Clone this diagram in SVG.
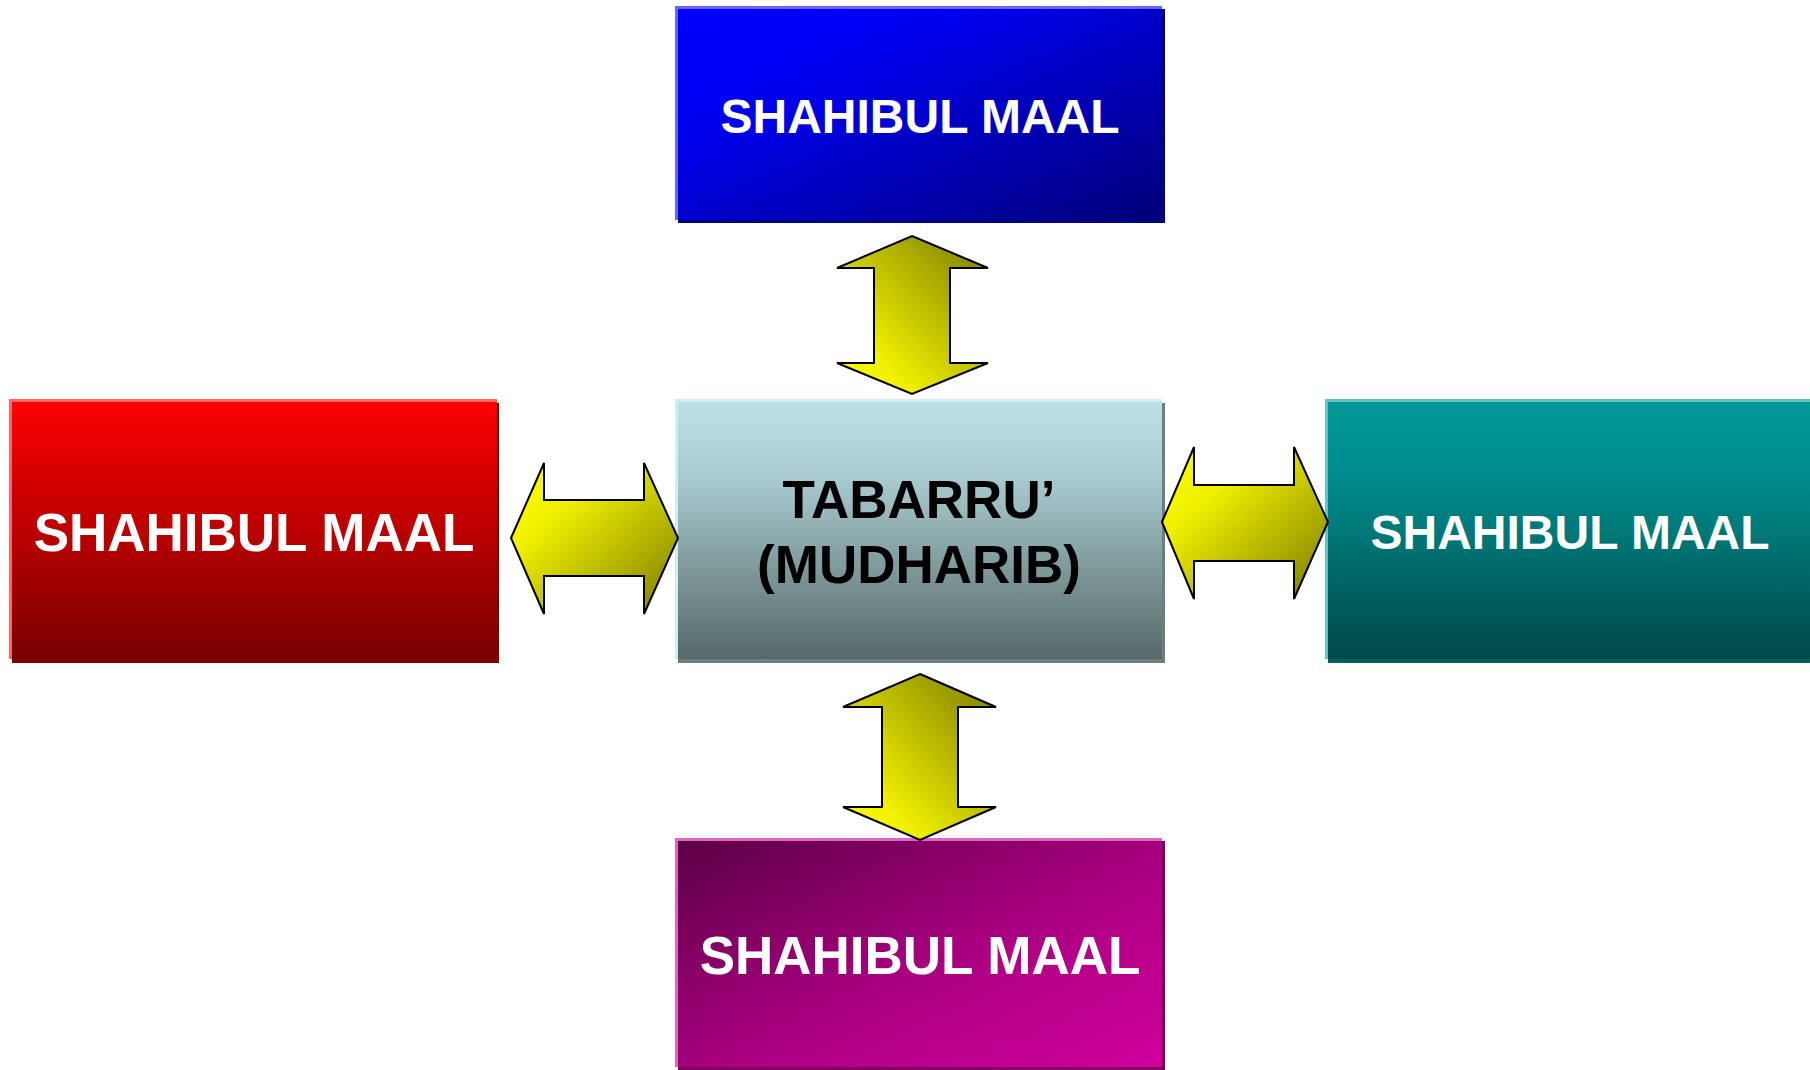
<svg xmlns="http://www.w3.org/2000/svg" width="1810" height="1070" viewBox="0 0 1810 1070">
<defs>
<linearGradient id="gBlue" x1="0" y1="0" x2="1" y2="1"><stop offset="0" stop-color="#0000ff"/><stop offset="0.3" stop-color="#0000f0"/><stop offset="1" stop-color="#000078"/></linearGradient>
<linearGradient id="gRed" x1="0" y1="0" x2="0" y2="1"><stop offset="0" stop-color="#ff0000"/><stop offset="1" stop-color="#780000"/></linearGradient>
<linearGradient id="gGrey" x1="0" y1="0" x2="0" y2="1"><stop offset="0" stop-color="#bde2e5"/><stop offset="0.3" stop-color="#a9cbcf"/><stop offset="1" stop-color="#566868"/></linearGradient>
<linearGradient id="gTeal" x1="0" y1="0" x2="0" y2="1"><stop offset="0" stop-color="#009999"/><stop offset="0.3" stop-color="#008c8c"/><stop offset="1" stop-color="#004848"/></linearGradient>
<linearGradient id="gMag" x1="0" y1="0" x2="1" y2="1"><stop offset="0" stop-color="#5a0044"/><stop offset="0.55" stop-color="#aa0080"/><stop offset="1" stop-color="#d0009c"/></linearGradient>
<linearGradient id="gArrV" x1="1" y1="0" x2="0" y2="1"><stop offset="0" stop-color="#7a7a00"/><stop offset="0.75" stop-color="#f0f000"/><stop offset="1" stop-color="#ffff00"/></linearGradient>
<linearGradient id="gArrH" x1="0" y1="0" x2="1" y2="1"><stop offset="0" stop-color="#ffff00"/><stop offset="0.3" stop-color="#f0f000"/><stop offset="1" stop-color="#7a7a00"/></linearGradient>
</defs>
<style>
.lbl{font-family:"Liberation Sans",Arial,sans-serif;font-weight:bold;text-anchor:middle;fill:#ffffff}
.dark{fill:#000000}
.arr{stroke:#000000;stroke-width:2;stroke-linejoin:miter}
.hl{fill:none;stroke-width:3}
</style>
<g id="node-top">
<rect x="678" y="9" width="487" height="214" fill="#000080"/>
<rect x="675" y="6" width="487" height="214" fill="url(#gBlue)"/>
<polyline class="hl" points="676.5,220 676.5,7.5 1162,7.5" stroke="#6666ff"/>
<text class="lbl" x="920" y="133" font-size="48">SHAHIBUL MAAL</text>
</g>
<g id="node-center">
<rect x="678" y="403" width="487" height="260" fill="#6b7f80"/>
<rect x="675" y="399" width="487" height="260" fill="url(#gGrey)"/>
<polyline class="hl" points="676.5,659 676.5,400.5 1162,400.5" stroke="#d2eef0"/>
<text class="lbl dark" x="919" y="518" font-size="53">TABARRU’</text>
<text class="lbl dark" x="919" y="583" font-size="53">(MUDHARIB)</text>
</g>
<g id="node-left">
<rect x="12" y="403" width="487" height="260" fill="#800000"/>
<rect x="9" y="399" width="488" height="260" fill="url(#gRed)"/>
<polyline class="hl" points="10.5,659 10.5,400.5 497,400.5" stroke="#ff6666"/>
<text class="lbl" x="254" y="551" font-size="53">SHAHIBUL MAAL</text>
</g>
<g id="node-right">
<rect x="1328" y="403" width="500" height="260" fill="#006060"/>
<rect x="1325" y="399" width="500" height="260" fill="url(#gTeal)"/>
<polyline class="hl" points="1326.5,659 1326.5,400.5 1825,400.5" stroke="#66c2c2"/>
<text class="lbl" x="1570" y="549" font-size="48">SHAHIBUL MAAL</text>
</g>
<g id="node-bottom">
<rect x="678" y="841" width="487" height="229" fill="#800060"/>
<rect x="675" y="838" width="487" height="229" fill="url(#gMag)"/>
<polyline class="hl" points="676.5,1067 676.5,839.5 1162,839.5" stroke="#e066c0"/>
<text class="lbl" x="920" y="974" font-size="53">SHAHIBUL MAAL</text>
</g>
<g id="connectors">
<polygon class="arr" fill="url(#gArrV)" points="912,236 988,268 950,268 950,363 988,363 912,394 837,363 874,363 874,268 837,268"/>
<polygon class="arr" fill="url(#gArrV)" points="920,674 996,707 958,707 958,807 996,807 920,840 843,807 882,807 882,707 843,707"/>
<polygon class="arr" fill="url(#gArrH)" points="511,538 544,463 544,500 644,500 644,463 678,538 644,614 644,576 544,576 544,614"/>
<polygon class="arr" fill="url(#gArrH)" points="1162,522 1194,447 1194,485 1294,485 1294,447 1328,522 1294,599 1294,561 1194,561 1194,599"/>
</g>
</svg>
